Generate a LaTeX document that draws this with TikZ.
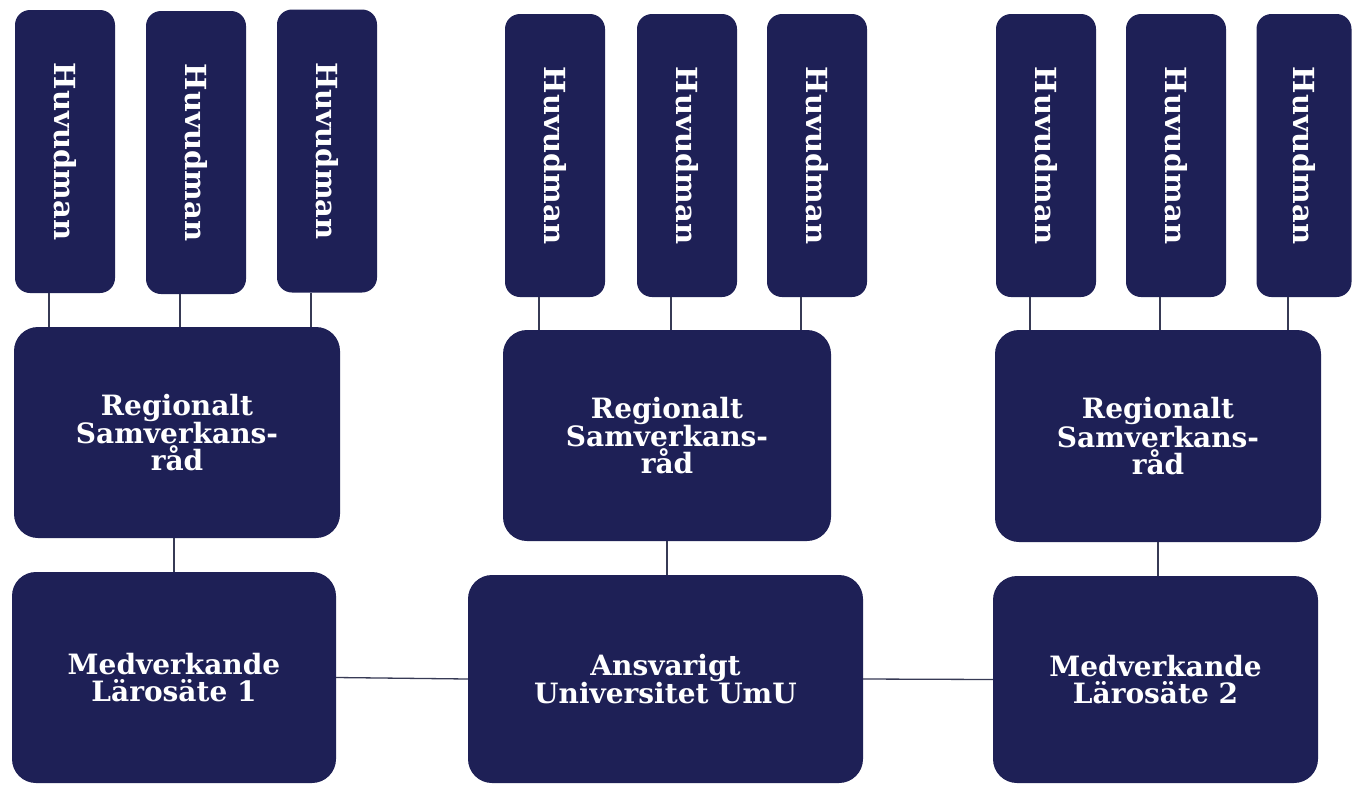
\documentclass[tikz,border=0pt]{standalone}
\usepackage{fontspec}
\setmainfont{DejaVu Serif}
\definecolor{navy}{RGB}{30,32,86}
\definecolor{linec}{RGB}{55,58,85}
\begin{document}
\begin{tikzpicture}[x=1pt,y=-1pt,
  box/.style={fill=navy,text=white,inner sep=0pt,align=center,rounded corners=24pt,font=\bfseries\fontsize{28}{27}\selectfont},
  hbox/.style={fill=navy,text=white,inner sep=0pt,rounded corners=15pt,minimum width=100pt,minimum height=283pt,font=\bfseries\fontsize{29}{29}\selectfont},
  conn/.style={draw=linec,line width=1.3pt}]
\useasboundingbox (0,0) rectangle (1352,785);
\fill[white] (0,0) rectangle (1352,785);
% group 1
\node[hbox] (h11) at (65,151.5) {\rotatebox{-90}{Huvudman}};
\node[hbox] (h12) at (196,152.5) {\rotatebox{-90}{Huvudman}};
\node[hbox] (h13) at (327,151) {\rotatebox{-90}{Huvudman}};
\node[box,minimum width=326pt,minimum height=211pt] (r1) at (177,432.5) {Regionalt\\Samverkans-\\råd};
\node[box,minimum width=324pt,minimum height=211pt] (m1) at (174,677.5) {Medverkande\\Lärosäte 1};
% group 2
\node[hbox] (h21) at (555,155.5) {\rotatebox{-90}{Huvudman}};
\node[hbox] (h22) at (687,155.5) {\rotatebox{-90}{Huvudman}};
\node[hbox] (h23) at (817,155.5) {\rotatebox{-90}{Huvudman}};
\node[box,minimum width=328pt,minimum height=211pt] (r2) at (667,435.5) {Regionalt\\Samverkans-\\råd};
\node[box,minimum width=395pt,minimum height=208pt] (a2) at (665.5,679) {Ansvarigt\\Universitet UmU};
% group 3
\node[hbox] (h31) at (1046,155.5) {\rotatebox{-90}{Huvudman}};
\node[hbox] (h32) at (1176,155.5) {\rotatebox{-90}{Huvudman}};
\node[hbox,minimum width=95pt] (h33) at (1304,155.5) {\rotatebox{-90}{Huvudman}};
\node[box,minimum width=326pt,minimum height=212pt] (r3) at (1158,436) {Regionalt\\Samverkans-\\råd};
\node[box,minimum width=325pt,minimum height=207pt] (m3) at (1155.5,679.5) {Medverkande\\Lärosäte 2};
% connectors
\foreach \h/\r in {h11/r1,h12/r1,h13/r1,h21/r2,h22/r2,h23/r2,h31/r3,h32/r3,h33/r3}{
  \draw[conn] ([xshift=-16pt]\h.south) -- ([xshift=-16pt]\h.south |- \r.north);}
\draw[conn] (m1.north |- r1.south) -- (m1.north);
\draw[conn] (r2.south) -- (r2.south |- a2.north);
\draw[conn] (r3.south) -- (r3.south |- m3.north);
\draw[conn] (m1.east) -- (a2.west);
\draw[conn] (a2.east) -- (m3.west);
\end{tikzpicture}
\end{document}
